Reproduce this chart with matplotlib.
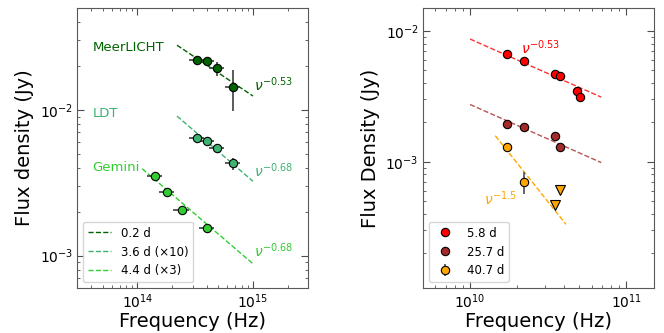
import numpy as np
import matplotlib
matplotlib.use('Agg')
import matplotlib.pyplot as plt

# --- left panel: optical / NIR SEDs ---
ml_nu = [3.26e14, 3.98e14, 4.86e14, 6.7e14]
ml_f = [0.0219, 0.0216, 0.0193, 0.0143]
ml_ferr = [0.0012, 0.0012, 0.0021, 0.0044]

ldt_nu = [3.26e14, 3.98e14, 4.86e14, 6.7e14]
ldt_f = [0.00645, 0.00615, 0.0055, 0.0043]
ldt_ferr = [0.0004, 0.0004, 0.0003, 0.0004]

gem_nu = [1.41e14, 1.82e14, 2.41e14, 3.98e14]
gem_f = [0.0035, 0.00272, 0.00205, 0.00155]
gem_ferr = [0.0001, 0.0001, 0.00008, 0.00007]

nu_frac_err = 0.15

# power-law fits (normalisation at 1e15 Hz)
ml_norm, ml_idx = 0.01245, -0.53
ldt_norm, ldt_idx = 0.00324, -0.68
gem_norm, gem_idx = 0.00088, -0.68

# --- right panel: radio SEDs ---
r1_nu = [1.73e10, 2.22e10, 3.51e10, 3.78e10, 4.85e10, 5.07e10]
r1_f = [0.00665, 0.00588, 0.00467, 0.00451, 0.00345, 0.0031]

r2_nu = [1.73e10, 2.22e10, 3.51e10, 3.78e10]
r2_f = [0.00196, 0.00183, 0.00156, 0.0013]

r3_nu = [1.73e10, 2.22e10]
r3_f = [0.0013, 0.0007]
r3_ferr = [0.0, 0.00013]
r3_lim_nu = [3.51e10, 3.78e10]
r3_lim_f = [0.000467, 0.00061]

# fits (normalisation at 1e10 Hz)
r1_norm, r2_norm, r_idx = 0.00868, 0.00274, -0.53
r3_norm, r3_idx = 0.00158 * (1.45) ** 1.5, -1.5

c_ml, c_ldt, c_gem = 'darkgreen', 'mediumseagreen', 'limegreen'
c1, c2, c3 = 'red', 'brown', 'orange'

fig = plt.figure(figsize=(6.64, 3.33), dpi=100)
ax1 = fig.add_axes([0.116, 0.135, 0.348, 0.841])
ax2 = fig.add_axes([0.637, 0.135, 0.348, 0.841])

ekw = dict(fmt='o', ms=6, mec='k', mew=0.8, ecolor='0.25', elinewidth=1.2, capsize=0, zorder=3)

for nu, f, fe, c in [(ml_nu, ml_f, ml_ferr, c_ml), (ldt_nu, ldt_f, ldt_ferr, c_ldt),
                     (gem_nu, gem_f, gem_ferr, c_gem)]:
    nu = np.array(nu)
    ax1.errorbar(nu, f, yerr=fe, xerr=nu * nu_frac_err, mfc=c, **ekw)

nn = np.logspace(np.log10(2.2e14), 15, 50)
ax1.plot(nn, ml_norm * (nn / 1e15) ** ml_idx, '--', color=c_ml, lw=1, label='0.2 d')
ax1.plot(nn, ldt_norm * (nn / 1e15) ** ldt_idx, '--', color=c_ldt, lw=1, label='3.6 d (×10)')
nn = np.logspace(np.log10(1.1e14), 15, 50)
ax1.plot(nn, gem_norm * (nn / 1e15) ** gem_idx, '--', color=c_gem, lw=1, label='4.4 d (×3)')

ax1.text(4.1e13, 0.0268, 'MeerLICHT', color=c_ml, fontsize=9.5, va='center')
ax1.text(4.1e13, 0.0094, 'LDT', color=c_ldt, fontsize=9.5, va='center')
ax1.text(4.1e13, 0.0040, 'Gemini', color=c_gem, fontsize=9.5, va='center')
ax1.text(1.02e15, 0.0150, r'$\nu^{-0.53}$', color=c_ml, fontsize=10, va='center')
ax1.text(1.02e15, 0.0038, r'$\nu^{-0.68}$', color=c_ldt, fontsize=10, va='center')
ax1.text(1.02e15, 0.00108, r'$\nu^{-0.68}$', color=c_gem, fontsize=10, va='center')

ax1.set_xscale('log')
ax1.set_yscale('log')
ax1.set_xlim(3e13, 3e15)
ax1.set_ylim(6e-4, 0.05)
ax1.set_xlabel('Frequency (Hz)', fontsize=14, labelpad=1)
ax1.set_ylabel('Flux density (Jy)', fontsize=14)
ax1.legend(loc='lower left', fontsize=8.5)

# right panel
mkw = dict(ls='none', marker='o', ms=6, mec='k', mew=0.8, zorder=3)
ax2.plot(r1_nu, r1_f, mfc=c1, label='5.8 d', **mkw)
ax2.plot(r2_nu, r2_f, mfc=c2, label='25.7 d', **mkw)
ax2.errorbar(r3_nu, r3_f, yerr=r3_ferr, fmt='o', ms=6, mfc=c3, mec='k', mew=0.8,
             ecolor='0.3', elinewidth=1.2, zorder=3, label='40.7 d')
ax2.plot(r3_lim_nu, r3_lim_f, ls='none', marker='v', ms=7, mfc=c3, mec='k', mew=0.8, zorder=3)

nn = np.logspace(10, np.log10(6.9e10), 50)
ax2.plot(nn, r1_norm * (nn / 1e10) ** r_idx, '--', color=c1, lw=1, alpha=0.8)
ax2.plot(nn, r2_norm * (nn / 1e10) ** r_idx, '--', color=c2, lw=1, alpha=0.8)
nn = np.logspace(np.log10(1.45e10), np.log10(4.1e10), 50)
ax2.plot(nn, r3_norm * (nn / 1e10) ** r3_idx, '--', color=c3, lw=1)

ax2.text(2.12e10, 0.0074, r'$\nu^{-0.53}$', color=c1, fontsize=10, va='center')
ax2.text(1.22e10, 0.00052, r'$\nu^{-1.5}$', color=c3, fontsize=10, va='center')

ax2.set_xscale('log')
ax2.set_yscale('log')
ax2.set_xlim(5e9, 1.5e11)
ax2.set_ylim(1.08e-4, 1.5e-2)
ax2.set_xlabel('Frequency (Hz)', fontsize=14, labelpad=1)
ax2.set_ylabel('Flux Density (Jy)', fontsize=14)
ax2.legend(loc='lower left', fontsize=8.5)

for ax in (ax1, ax2):
    ax.tick_params(which='both', direction='in', top=True, right=True, labelsize=10,
                   color='0.3', pad=3)
    ax.tick_params(which='major', length=5)
    ax.tick_params(which='minor', length=2.5)
    for s in ax.spines.values():
        s.set_color('0.35')

fig.savefig('out.png', dpi=100)
